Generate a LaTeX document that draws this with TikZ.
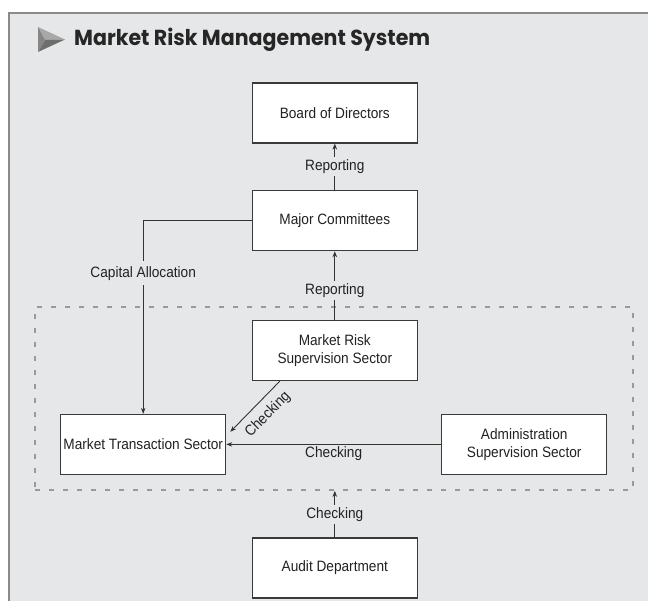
\documentclass[tikz,border=0pt]{standalone}
\usepackage{fontspec}
\setmainfont{Liberation Sans}[FakeStretch=0.91]
\newfontfamily\titlefont{Poppins}
\usetikzlibrary{arrows.meta,calc}
\definecolor{bg}{HTML}{E6E7E8}
\definecolor{panelline}{HTML}{8A8A8A}
\definecolor{boxc}{HTML}{3A3A3A}
\definecolor{connc}{HTML}{333333}
\definecolor{dashc}{HTML}{9A9A9A}
\definecolor{txt}{HTML}{222222}
\definecolor{triA}{HTML}{A8A8A8}
\definecolor{triB}{HTML}{6E6E6E}
\definecolor{triC}{HTML}{858585}
\tikzset{
  box/.style={draw=boxc, fill=white, line width=1.1pt, minimum width=165pt, minimum height=60pt,
    align=center, inner sep=2pt, text=txt, font=\fontsize{15}{17.5}\selectfont},
  conn/.style={draw=connc, line width=0.9pt, -{Stealth[length=6pt,width=4.5pt]}},
  lbl/.style={fill=bg, inner sep=2.5pt, text=txt, font=\fontsize{15}{17.5}\selectfont},
  lblnf/.style={inner sep=1.5pt, text=txt, font=\fontsize{15}{17.5}\selectfont},
  grpbox/.style={draw=dashc, line width=1.8pt, dash pattern=on 5pt off 9pt, fill=none,
    minimum width=598pt, minimum height=183pt, inner sep=0pt}
}
\begin{document}
\begin{tikzpicture}[x=1pt,y=-1pt]
\useasboundingbox (0,0) rectangle (648,601);
\fill[white] (0,0) rectangle (648,601);
\fill[bg] (9,13) rectangle (648,601);
\draw[panelline, line width=1.4pt] (9,601) -- (9,13) -- (648,13);
% title icon
\fill[triA] (38,27) -- (65,39.5) -- (45,40) -- cycle;
\fill[triB] (38,52) -- (65,39.5) -- (45,40) -- cycle;
\fill[triC] (38,27) -- (45,40) -- (38,52) -- cycle;
\node[anchor=base west, inner sep=0pt, text=black!85] (title) at (74,45.7)
  {\resizebox*{356pt}{23.4pt}{\titlefont\bfseries Market Risk Management System}};
% dashed group
\node[grpbox] (grp) at (334,398.5) {};
% boxes
\node[box] (board) at (334.8,113) {Board of Directors};
\node[box] (major) at (334.8,220.7) {Major Committees};
\node[box] (mrs) at (334.8,350.7) {Market Risk\\Supervision Sector};
\node[box] (mts) at (143.2,444.4) {Market Transaction Sector};
\node[box] (admin) at (524.2,444.4) {Administration\\Supervision Sector};
\node[box] (audit) at (334.8,568) {Audit Department};
% connectors
\draw[conn] (major) -- node[lbl] (rep1) {Reporting} (board);
\draw[conn] (mrs) -- node[lbl, pos=0.43] (rep2) {Reporting} (major);
\draw[conn] (major.west) -| node[lbl, pos=0.636, inner sep=5pt] (cap) {Capital Allocation} (mts.north);
\draw[conn] ($(mrs.south west)+(28,0)$) -- ($(mts.north east)+(4,18)$);
\node[lblnf, rotate=45] (chk1) at (268,414.5) {Checking};
\draw[conn] (admin) -- node[lblnf, below] (chk2) {Checking} (mts);
\draw[conn] (audit.north) -- node[lbl] (chk3) {Checking} (audit.north |- grp.south);
\end{tikzpicture}
\end{document}
